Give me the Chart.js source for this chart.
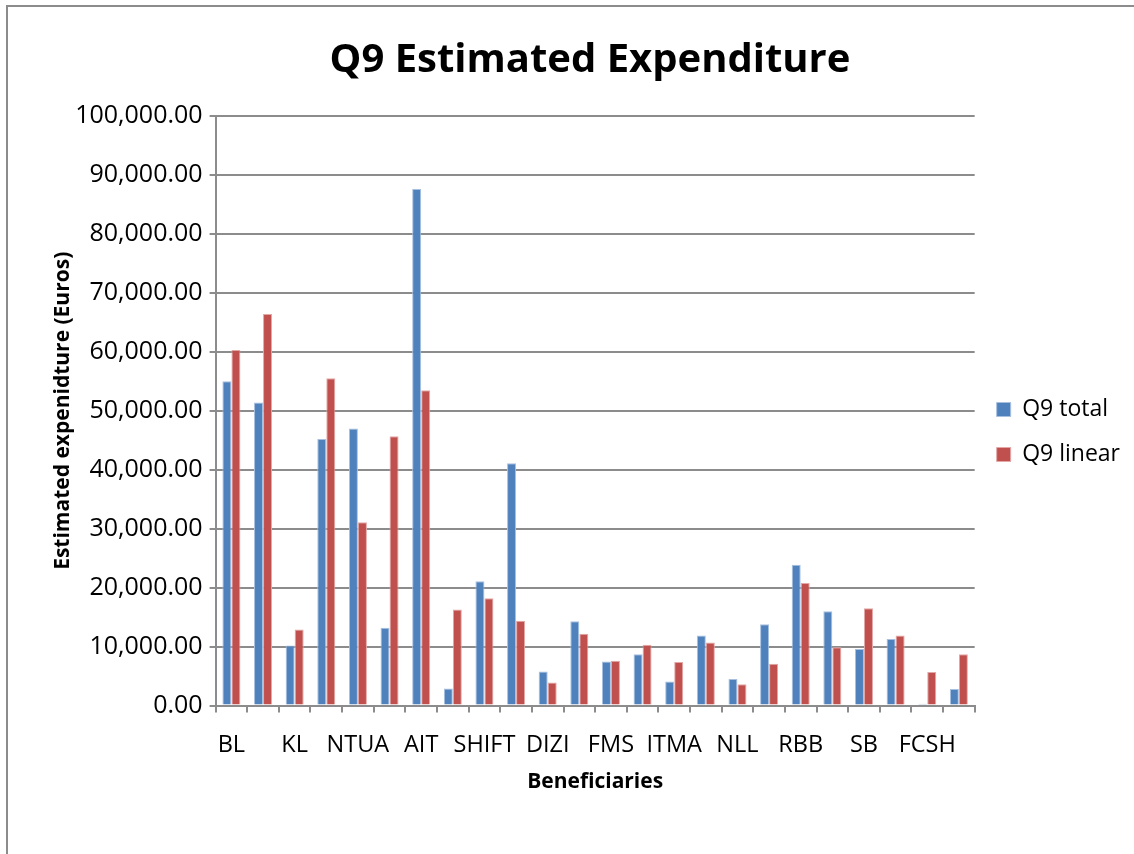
<!DOCTYPE html>
<html>
<head>
<meta charset="utf-8">
<script src="https://cdn.jsdelivr.net/npm/chart.js@4"></script>
<style>
  body { margin: 0; background: #fff; }
  #wrap { position: relative; width: 1134px; height: 854px; }
  #frame { position: absolute; left: 6px; top: 5px; right: 0; bottom: 0;
           border-left: 2px solid #8c8c8c; border-top: 2px solid #8c8c8c; pointer-events: none; }
  canvas { position: absolute; left: 0; top: 0; }
</style>
</head>
<body>
<div id="wrap">
  <canvas id="myChart" width="1134" height="854"></canvas>
  <div id="frame"></div>
</div>
<script>
// beneficiaries (only every other name is printed on the axis)
var beneficiaries = ['BL', '', 'KL', '', 'NTUA', '', 'AIT', '', 'SHIFT', '', 'DIZI', '', 'FMS', '',
                     'ITMA', '', 'NLL', '', 'RBB', '', 'SB', '', 'FCSH', ''];
var q9Total = [55000, 51400, 10200, 45200, 47000, 13200, 87600, 2900, 21100, 41100, 5800, 14300,
               7500, 8700, 4100, 11900, 4500, 13800, 23900, 16000, 9600, 11300, 300, 2800];
var q9Linear = [60300, 66400, 12900, 55500, 31100, 45700, 53500, 16300, 18200, 14400, 3900, 12200,
                7600, 10300, 7400, 10700, 3600, 7100, 20800, 9900, 16500, 11900, 5700, 8700];
var yTicks = [0, 10000, 20000, 30000, 40000, 50000, 60000, 70000, 80000, 90000, 100000];

const ctx = document.getElementById('myChart');
const FONT = "'Open Sans', sans-serif";
const GRID = '#8c8c8c';

new Chart(ctx, {
    type: 'bar',
    data: {
        labels: beneficiaries,
        datasets: [{
            label: 'Q9 total',
            data: q9Total,
            backgroundColor: '#4f81bd',
            borderColor: '#a7c0e0',
            borderWidth: 1,
            categoryPercentage: 0.57,
            barPercentage: 1
        },
        {
            label: 'Q9 linear',
            data: q9Linear,
            backgroundColor: '#c0504d',
            borderColor: '#e3a8a6',
            borderWidth: 1,
            categoryPercentage: 0.57,
            barPercentage: 1
        }]
    },
    options: {
        responsive: false,
        animation: false,
        layout: { padding: { left: 50, right: 4, top: 37, bottom: 59 } },
        plugins: {
            title: {
                display: true,
                text: 'Q9 Estimated Expenditure',
                color: '#000',
                font: { family: FONT, size: 40, weight: 'bold' },
                padding: { top: 0, bottom: 31 }
            },
            legend: {
                position: 'right',
                align: 'start',
                // empty title only used to push the items down to mid height
                title: { display: true, text: ' ', font: { size: 10 }, padding: { top: 327, bottom: 0 } },
                labels: {
                    color: '#000',
                    font: { family: FONT, size: 23 },
                    boxWidth: 14,
                    boxHeight: 14,
                    padding: 22
                }
            },
            tooltip: { enabled: false }
        },
        scales: {
            x: {
                border: { color: GRID, width: 2 },
                grid: { drawOnChartArea: false, drawTicks: true, tickLength: 7, color: GRID, lineWidth: 2 },
                ticks: {
                    autoSkip: false,
                    maxRotation: 0,
                    color: '#000',
                    font: { family: FONT, size: 23.5 },
                    padding: 19
                },
                title: {
                    display: true,
                    text: 'Beneficiaries',
                    color: '#000',
                    font: { family: FONT, size: 21, weight: 'bold' },
                    padding: { top: -9, bottom: 0 }
                }
            },
            y: {
                min: 0,
                max: 100000,
                afterBuildTicks: function(axis) {
                    axis.ticks = yTicks.map(function(v) { return { value: v }; });
                },
                border: { color: GRID, width: 2 },
                grid: { color: GRID, lineWidth: 2, tickLength: 6 },
                ticks: {
                    color: '#000',
                    font: { family: FONT, size: 25 },
                    padding: 7,
                    callback: function(v) {
                        return v.toLocaleString('en-US', { minimumFractionDigits: 2, maximumFractionDigits: 2 });
                    }
                },
                title: {
                    display: true,
                    text: 'Estimated expenidture (Euros)',
                    color: '#000',
                    font: { family: FONT, size: 21, weight: 'bold' },
                    padding: { top: 0, bottom: -7 }
                }
            }
        }
    }
});
</script>
</body>
</html>
